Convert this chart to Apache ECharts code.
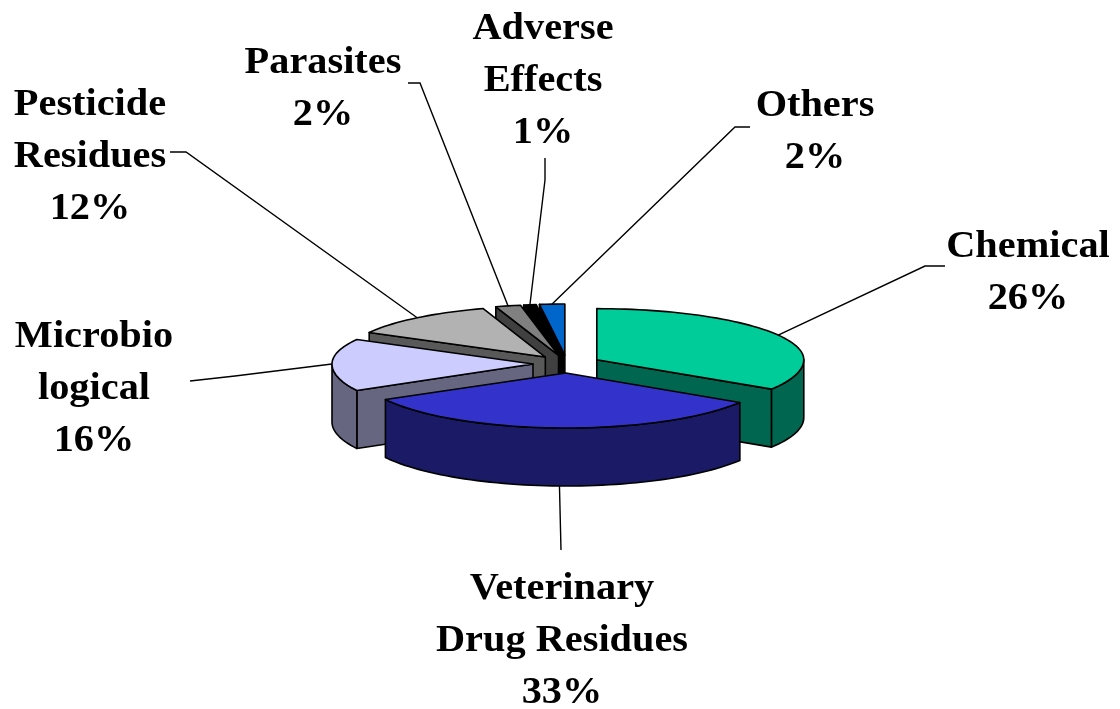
<!DOCTYPE html>
<html><head><meta charset="utf-8">
<style>html,body{margin:0;padding:0;background:#fff}#c{width:1120px;height:709px}</style>
<script src="https://cdn.jsdelivr.net/npm/echarts@6/dist/echarts.min.js"></script>
</head><body><div id="c"></div>
<script>
// Slices, clockwise from 12 o'clock
const categories = ['Chemical','Veterinary\nDrug Residues','Microbio\nlogical','Pesticide\nResidues','Parasites','Adverse\nEffects','Others'];
// Share of the circle each slice occupies
const drawnShares = [34,33,16,12,2,1,2];
// Percentages as printed in the labels
const printedPercents = [26,33,16,12,2,1,2];
const topColors  = ['#00CC99','#3333CC','#CCCCFF','#B2B2B2','#808080','#000000','#0066CC'];
const wallColors = ['#006650','#1A1A66','#666680','#595959','#404040','#000000','#000000'];
// Layout: label centre, and the elbow(s) of the leader line from the slice to its label
const labelCentres = [[1028,273],[562,641],[94,389],[90,157],[323,89],[543,81],[815,132]];
const leaderElbows = [[[925,266],[945,266]],[[561,550]],[[235,376],[190,381]],[[186,152],[170,152]],[[420,83],[408,83]],[[545,180],[545,158]],[[735,127],[750,127]]];
const anchorDepth = [0,1,0,0,0,0,0];
const sliceRx = [207,206,201,201,203,203,203];
const drawOrder = [6,5,4,3,2,0,1];

const geo = {cx:567, cy:364, ex:34, ey:9, ryBack:51, ryFront:55, depth:58, textStretch:1.09};
const total = drawnShares.reduce((a,b)=>a+b,0);
let run = 0;
const spans = drawnShares.map(v=>{const s=run; run+=v; return [s/total*360, run/total*360];});
const rad = d=>d*Math.PI/180;
function apex(i){const m=rad((spans[i][0]+spans[i][1])/2);
  return [geo.cx+geo.ex*Math.sin(m), geo.cy-geo.ey*Math.cos(m)];}
function rim(i,a,deg,dz){const t=rad(deg),c=Math.cos(t);
  return [a[0]+sliceRx[i]*Math.sin(t), a[1]-c*(c>0?geo.ryBack:geo.ryFront)+(dz||0)];}
function arc(i,a,from,to,dz){const n=Math.max(2,Math.ceil((to-from)/2)),p=[];
  for(let k=0;k<=n;k++)p.push(rim(i,a,from+(to-from)*k/n,dz));return p;}
const line={stroke:'#000',lineWidth:1.6,lineJoin:'round'};
function poly(points,fill){return {type:'polygon',shape:{points},style:Object.assign({fill},line)};}
function renderSlice(params,api){
  const i=api.value(0), [s,e]=spans[i], a=apex(i), d=geo.depth, kids=[];
  const down=p=>[p[0],p[1]+d];
  if(s>=180) {const r=rim(i,a,s); kids.push(poly([a,r,down(r),down(a)],wallColors[i]));}
  if(e<=180) {const r=rim(i,a,e); kids.push(poly([a,r,down(r),down(a)],wallColors[i]));}
  const f=Math.max(s,90), t=Math.min(e,270);
  if(t>f){kids.push(poly(arc(i,a,f,t,0).concat(arc(i,a,f,t,d).reverse()),wallColors[i]));}
  kids.push(poly([a].concat(arc(i,a,s,e,0)),topColors[i]));
  return {type:'group',children:kids};
}
function renderLabel(params,api){
  const i=api.value(0), a=apex(i), m=(spans[i][0]+spans[i][1])/2;
  const start=rim(i,a,m,anchorDepth[i]?geo.depth:0);
  const pts=[start].concat(leaderElbows[i]);
  return {type:'group',children:[
    {type:'polyline',shape:{points:pts},style:{stroke:'#000',lineWidth:1.4,fill:null}},
    {type:'text',x:labelCentres[i][0],y:labelCentres[i][1],scaleX:geo.textStretch,style:{
      text:categories[i]+'\n'+printedPercents[i]+'%',
      align:'center',verticalAlign:'middle',lineHeight:52,
      font:'bold 37px "Liberation Serif"',fill:'#000'}}
  ]};
}
const chart=echarts.init(document.getElementById('c'),null,{renderer:'canvas'});
chart.setOption({
  animation:false,backgroundColor:'#fff',
  series:[
    {type:'custom',coordinateSystem:'none',silent:true,renderItem:renderLabel,z:1,data:categories.map((c,i)=>[i])},
    {type:'custom',coordinateSystem:'none',silent:true,renderItem:renderSlice,z:2,data:drawOrder.map(i=>[i])}
  ]
});
</script></body></html>
